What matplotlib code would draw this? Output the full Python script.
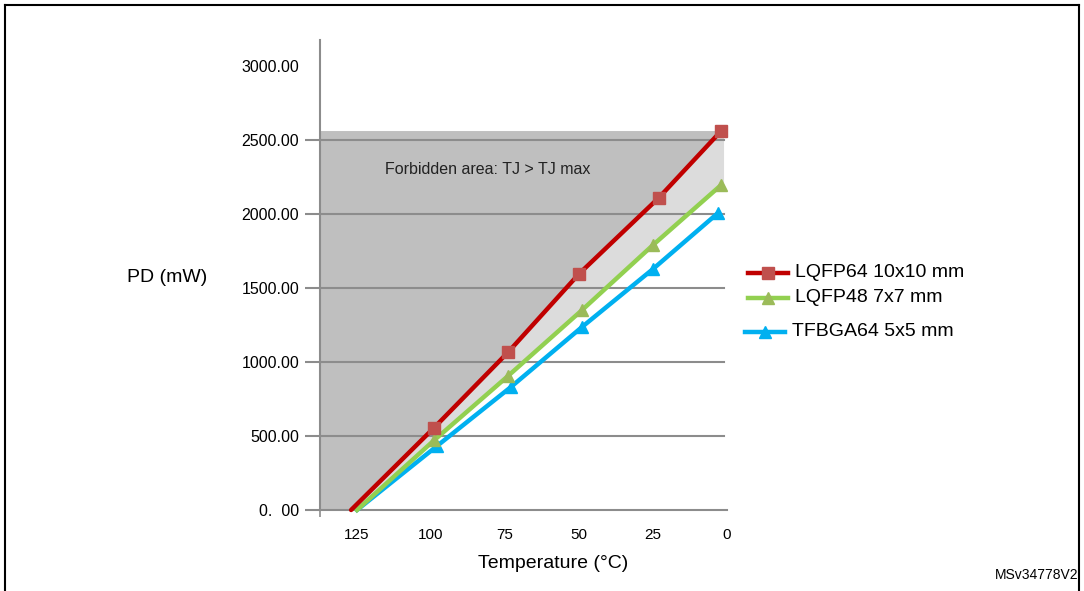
import matplotlib
matplotlib.use("Agg")
import matplotlib.pyplot as plt
from matplotlib.lines import Line2D

plt.rcParams['font.family'] = ['Liberation Sans', 'DejaVu Sans']

# data
temp_lqfp64 = [127, 99, 74, 50, 23, 2]
pd_lqfp64 = [0, 555, 1065, 1595, 2110, 2560]
temp_lqfp48 = [125, 99, 74, 49, 25, 2]
pd_lqfp48 = [0, 470, 905, 1350, 1790, 2195]
temp_tfbga64 = [125, 98, 73, 49, 25, 3]
pd_tfbga64 = [0, 432, 831, 1236, 1628, 2007]

x_ticks = [125, 100, 75, 50, 25, 0]
x_tick_marks = [137.5, 100, 75, 50, 25, 0]
y_ticks = [0, 500, 1000, 1500, 2000, 2500, 3000]
y_labels = ["0.  00", "500.00", "1000.00", "1500.00", "2000.00", "2500.00", "3000.00"]
x_left, x_right = 137.5, 0
y_top = 3175

fig = plt.figure(figsize=(10.84, 5.91), dpi=100)
ax = fig.add_axes([320 / 1084, 1 - 510 / 591, 407 / 1084, 470 / 591])

# forbidden area (dark) and margin between LQFP64 and LQFP48 (light)
top = pd_lqfp64[-1]
dark_x = [x_left, temp_lqfp64[0]] + temp_lqfp64 + [x_left]
dark_y = [0, 0] + pd_lqfp64 + [top]
ax.fill(dark_x, dark_y, color='#bfbfbf', lw=0, zorder=1)
light_x = temp_lqfp64 + [1, 1] + temp_lqfp48[::-1]
light_y = pd_lqfp64 + [top, pd_lqfp48[-1]] + pd_lqfp48[::-1]
ax.fill(light_x, light_y, color='#dcdcdc', lw=0, zorder=1)

for v in y_ticks[1:-1]:
    ax.plot([x_left, 1], [v, v], color='#8c8c8c', lw=1.5, zorder=2)

ax.plot(temp_lqfp64, pd_lqfp64, color='#c00000', lw=3.2, solid_capstyle='round',
        marker='s', markersize=9, markerfacecolor='#c0504d', markeredgecolor='#c0504d',
        markevery=list(range(1, 6)), zorder=5, clip_on=False, label='LQFP64 10x10 mm')
ax.plot(temp_lqfp48, pd_lqfp48, color='#92d050', lw=3.2,
        marker='^', markersize=9, markerfacecolor='#9bbb59', markeredgecolor='#9bbb59',
        markevery=list(range(1, 6)), zorder=4, clip_on=False, label='LQFP48 7x7 mm')
ax.plot(temp_tfbga64, pd_tfbga64, color='#00b0f0', lw=3.2,
        marker='^', markersize=9, markerfacecolor='#00b0f0', markeredgecolor='#00b0f0',
        markevery=list(range(1, 6)), zorder=3, clip_on=False, label='TFBGA64 5x5 mm')

ax.set_xlim(x_left, x_right)
ax.set_ylim(0, y_top)

ax.set_xticks(x_ticks)
ax.set_xticklabels([str(t) for t in x_ticks], fontsize=11)
ax.tick_params(axis='x', length=0, pad=13)
ax.set_xticks(x_tick_marks, minor=True)
ax.tick_params(axis='x', which='minor', length=5, width=1.2, color='#8c8c8c')

ax.set_yticks(y_ticks)
ax.set_yticklabels(y_labels, fontsize=11.5)
ax.tick_params(axis='y', length=11, width=1.5, color='#8c8c8c', pad=4)
ax.yaxis.get_major_ticks()[-1].tick1line.set_visible(False)

for s in ['top', 'right']:
    ax.spines[s].set_visible(False)
for s in ['left', 'bottom']:
    ax.spines[s].set_color('#8c8c8c')
    ax.spines[s].set_linewidth(1.5)
ax.set_facecolor('none')

ax.text(115.5, 2300, 'Forbidden area: TJ > TJ max', fontsize=11.5,
        color='#222222', ha='left', va='center')

fig.text(553 / 1084, 1 - 563 / 591, 'Temperature (°C)', fontsize=14, ha='center', va='center')
fig.text(167 / 1084, 1 - 278 / 591, 'PD (mW)', fontsize=14, ha='center', va='center')
fig.text(1078 / 1084, 1 - 575 / 591, 'MSv34778V2', fontsize=10, ha='right', va='center')

# legend drawn by hand at figure coordinates
leg_y = [273, 298, 332]
leg_x0 = [748, 748, 745]
handles = ax.get_lines()[-3:]
for h, ly, lx in zip(handles, leg_y, leg_x0):
    yy = 1 - ly / 591
    fig.add_artist(Line2D([lx / 1084, (lx + 40) / 1084], [yy, yy], color=h.get_color(), lw=3.2,
                          transform=fig.transFigure))
    fig.add_artist(Line2D([(lx + 20) / 1084], [yy], marker=h.get_marker(), markersize=9,
                          color=h.get_markerfacecolor(), lw=0, transform=fig.transFigure))
    fig.text((lx + 47) / 1084, yy, h.get_label(), fontsize=14, ha='left', va='center')

# page frame
for xs, ys in [([5, 5], [5, 591]), ([5, 1079], [5, 5]), ([1079, 1079], [5, 591])]:
    fig.add_artist(Line2D([x / 1084 for x in xs], [1 - y / 591 for y in ys], color='black',
                          lw=1.5, transform=fig.transFigure))

fig.savefig('out.png', dpi=100)
